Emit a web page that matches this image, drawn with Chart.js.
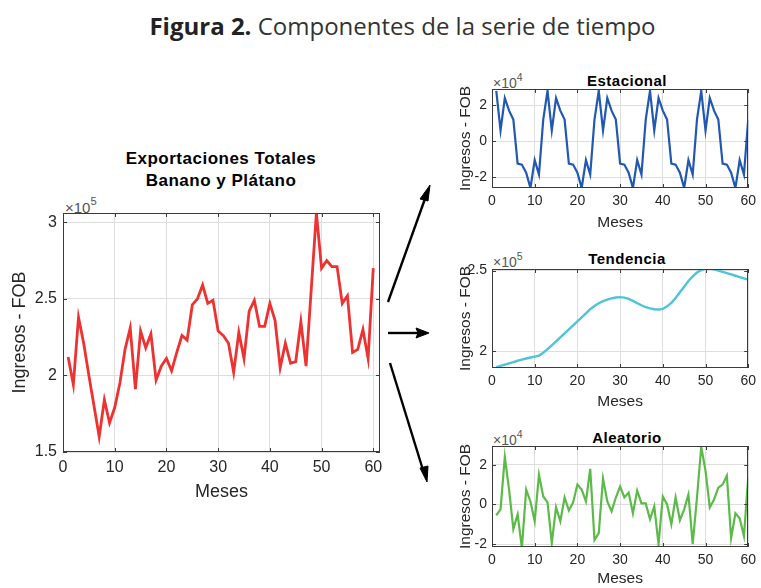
<!doctype html>
<html>
<head>
<title>Figura 2 - Componentes de la serie de tiempo</title>
<script src="https://cdn.jsdelivr.net/npm/chart.js@4.4.0/dist/chart.umd.min.js"></script>
<style>
body {
	margin: 0;
	background: #fff;
	width: 761px;
	height: 588px;
	overflow: hidden;
	position: relative;
	font-family: "Liberation Sans", Arial, sans-serif;
}
canvas { position: absolute; }
.txt { position: absolute; white-space: nowrap; color: #000; line-height: 1; }
.fig { left: 22px; width: 761px; text-align: center; top: 14px; font-family: "Open Sans", sans-serif; font-size: 24px; color: #333; }
.fig b { font-weight: 700; color: #222; }
.ttl { font-weight: bold; transform: translate(-50%, -50%); letter-spacing: 0.5px; }
.exp { color: #555; transform: translateY(-50%); }
.exp sup { font-size: 0.75em; position: relative; top: -2px; }
</style>
</head>
<body>
	<div class="txt fig"><b>Figura 2.</b> Componentes de la serie de tiempo</div>

	<div class="txt ttl" style="left:221px; top:158px; font-size:17px;">Exportaciones Totales</div>
	<div class="txt ttl" style="left:221px; top:180px; font-size:17px;">Banano y Plátano</div>
	<div class="txt exp" style="left:65px; top:206px; font-size:15px;">&times;10<sup>5</sup></div>

	<div class="txt ttl" style="left:627px; top:80px; font-size:15px;">Estacional</div>
	<div class="txt exp" style="left:493px; top:82px; font-size:14px;">&times;10<sup>4</sup></div>
	<div class="txt ttl" style="left:627px; top:258px; font-size:15px;">Tendencia</div>
	<div class="txt exp" style="left:493px; top:261px; font-size:14px;">&times;10<sup>5</sup></div>
	<div class="txt ttl" style="left:627px; top:437px; font-size:15px;">Aleatorio</div>
	<div class="txt exp" style="left:493px; top:439px; font-size:14px;">&times;10<sup>4</sup></div>

	<canvas id="cMain" width="400" height="320" style="left:0; top:190px;"></canvas>
	<canvas id="cEst" width="321" height="172" style="left:440px; top:60px;"></canvas>
	<canvas id="cTen" width="321" height="171" style="left:440px; top:240px;"></canvas>
	<canvas id="cAle" width="321" height="168" style="left:440px; top:420px;"></canvas>

	<svg width="761" height="588" style="position:absolute; left:0; top:0;">
		<g stroke="#000" stroke-width="2.4" fill="#000">
			<line x1="388" y1="302" x2="426" y2="196"/>
			<polygon points="430,185 420,199 428,201" stroke-width="1"/>
			<line x1="388" y1="333" x2="420" y2="333"/>
			<polygon points="429,333 416,328 418,333 416,338" stroke-width="1"/>
			<line x1="390" y1="363" x2="423" y2="470"/>
			<polygon points="427,482 420,468 428,466" stroke-width="1"/>
		</g>
	</svg>

	<script>
	// meses (eje x)
	var meses = [1,2,3,4,5,6,7,8,9,10,11,12,13,14,15,16,17,18,19,20,
		21,22,23,24,25,26,27,28,29,30,31,32,33,34,35,36,37,38,39,40,
		41,42,43,44,45,46,47,48,49,50,51,52,53,54,55,56,57,58,59,60];
	var xTicks = [0,10,20,30,40,50,60];

	// Exportaciones totales (x10^5)
	var totales = [2.12,1.94,2.38,2.21,2.00,1.80,1.60,1.84,1.69,1.79,
		1.95,2.17,2.31,1.91,2.29,2.18,2.27,1.97,2.06,2.11,
		2.03,2.15,2.26,2.23,2.46,2.50,2.59,2.47,2.49,2.29,
		2.26,2.21,2.02,2.28,2.11,2.42,2.49,2.32,2.32,2.47,
		2.36,2.05,2.21,2.08,2.09,2.35,2.06,2.56,3.06,2.70,
		2.75,2.71,2.71,2.47,2.52,2.15,2.17,2.30,2.11,2.70];
	var totalesTicks = [1.5,2,2.5,3];

	// Componente estacional (x10^4)
	var estacional = [2.8,0.6,2.4,1.7,1.2,-1.25,-1.3,-1.75,-2.6,-1.05,-1.85,1.2,
		2.8,0.6,2.4,1.7,1.2,-1.25,-1.3,-1.75,-2.6,-1.05,-1.85,1.2,
		2.8,0.6,2.4,1.7,1.2,-1.25,-1.3,-1.75,-2.6,-1.05,-1.85,1.2,
		2.8,0.6,2.4,1.7,1.2,-1.25,-1.3,-1.75,-2.6,-1.05,-1.85,1.2,
		2.8,0.6,2.4,1.7,1.2,-1.25,-1.3,-1.75,-2.6,-1.05,-1.85,1.2];
	var estacionalTicks = [-2,0,2];

	// Componente tendencia (x10^5)
	var tendencia = [1.900,1.908,1.916,1.924,1.932,1.940,1.947,1.954,1.960,1.966,
		1.972,1.990,2.012,2.036,2.060,2.085,2.110,2.135,2.160,2.185,
		2.210,2.235,2.260,2.280,2.297,2.310,2.320,2.328,2.333,2.335,
		2.332,2.324,2.312,2.298,2.285,2.273,2.265,2.260,2.258,2.262,
		2.278,2.300,2.330,2.365,2.400,2.435,2.465,2.488,2.503,2.512,
		2.515,2.508,2.500,2.492,2.484,2.476,2.468,2.460,2.452,2.444];
	var tendenciaTicks = [2,2.5];

	// Componente aleatorio (x10^4)
	var aleatorio = [-0.55,-0.25,2.4,0.75,-1.25,-0.5,-2.2,0.75,0.15,-0.85,
		1.5,0.4,0.1,-1.95,-0.15,-0.85,0.35,-0.3,0.1,1.0,
		0.75,0.15,1.8,-1.8,-1.45,1.3,0.15,-0.35,0.35,0.9,
		0.35,0.6,-0.45,0.7,0.05,0.05,-0.75,-0.1,-2.0,0.4,
		0,-1.0,0.35,-0.8,-0.25,0.5,-2.0,0.35,2.9,1.7,
		-0.15,0.25,0.85,1.0,1.45,-1.7,-0.45,-0.7,-1.6,1.35];
	var aleatorioTicks = [-2,0,2];

	var F = '"Liberation Sans", Arial, sans-serif';
	var INK = '#262626';

	// caja tipo matlab con marcas hacia dentro
	var boxPlugin = {
		id: 'box',
		afterDraw: function(chart) {
			var ctx = chart.ctx, a = chart.chartArea, sx = chart.scales.x, sy = chart.scales.y;
			ctx.save();
			ctx.strokeStyle = '#3a3a3a';
			ctx.lineWidth = 1;
			ctx.strokeRect(Math.round(a.left) + 0.5, Math.round(a.top) + 0.5,
				Math.round(a.right - a.left) - 1, Math.round(a.bottom - a.top) - 1);
			ctx.beginPath();
			sx.ticks.forEach(function(t) {
				var p = Math.round(sx.getPixelForValue(t.value)) + 0.5;
				ctx.moveTo(p, a.bottom); ctx.lineTo(p, a.bottom - 4);
				ctx.moveTo(p, a.top); ctx.lineTo(p, a.top + 4);
			});
			sy.ticks.forEach(function(t) {
				var p = Math.round(sy.getPixelForValue(t.value)) + 0.5;
				ctx.moveTo(a.left, p); ctx.lineTo(a.left + 4, p);
				ctx.moveTo(a.right, p); ctx.lineTo(a.right - 4, p);
			});
			ctx.stroke();
			ctx.restore();
		}
	};

	function drawPanel(id, values, yTicks, color, c) {
		var pts = meses.map(function(m, i) { return {x: m, y: values[i]}; });
		return new Chart(document.getElementById(id), {
			type: 'line',
			data: { datasets: [{
				data: pts,
				borderColor: color,
				borderWidth: c.lw,
				pointRadius: 0,
				tension: 0,
				fill: false
			}]},
			options: {
				responsive: false,
				animation: false,
				plugins: { legend: {display: false}, tooltip: {enabled: false} },
				layout: { padding: {top: c.padTop, right: c.padRight, left: 0, bottom: 0} },
				scales: {
					x: {
						type: 'linear', min: 0, max: c.xMax,
						afterBuildTicks: function(s) { s.ticks = xTicks.map(function(v) { return {value: v}; }); },
						afterFit: function(s) { s.height = c.xHeight; },
						grid: {color: '#dedede', drawTicks: false},
						border: {display: false},
						ticks: {color: INK, font: {size: c.tick, family: F}, padding: c.xTickPad,
							maxRotation: 0, autoSkip: false, callback: function(v) { return String(v); }},
						title: {display: true, text: 'Meses', color: INK,
							font: {size: c.lab, family: F}, padding: {top: 0, bottom: c.xTitlePad}}
					},
					y: {
						type: 'linear', min: c.yMin, max: c.yMax,
						afterBuildTicks: function(s) { s.ticks = yTicks.map(function(v) { return {value: v}; }); },
						afterFit: function(s) { s.width = c.yWidth; },
						grid: {color: '#dedede', drawTicks: false},
						border: {display: false},
						ticks: {color: INK, font: {size: c.tick, family: F}, padding: c.yTickPad,
							autoSkip: false, callback: function(v) { return String(v); }},
						title: {display: true, text: 'Ingresos - FOB', color: INK,
							font: {size: c.lab, family: F}, padding: {top: c.yTitlePad, bottom: 0}}
					}
				}
			},
			plugins: [boxPlugin]
		});
	}

	drawPanel('cMain', totales, totalesTicks, '#ee3131', {
		lw: 2.8, padTop: 23, padRight: 20, xMax: 61.3, yMin: 1.5, yMax: 3.06,
		xHeight: 58, yWidth: 63, tick: 16, lab: 18, xTickPad: 6, yTickPad: 6,
		xTitlePad: 7, yTitlePad: 9
	});
	drawPanel('cEst', estacional, estacionalTicks, '#2158b2', {
		lw: 2.2, padTop: 29, padRight: 8, xMax: 60, yMin: -2.6, yMax: 2.9,
		xHeight: 44, yWidth: 52, tick: 14, lab: 15.5, xTickPad: 5, yTickPad: 5,
		xTitlePad: 0, yTitlePad: 16
	});
	drawPanel('cTen', tendencia, tendenciaTicks, '#4fc3d8', {
		lw: 2.4, padTop: 29, padRight: 8, xMax: 60, yMin: 1.895, yMax: 2.51,
		xHeight: 43, yWidth: 52, tick: 14, lab: 15.5, xTickPad: 5, yTickPad: 5,
		xTitlePad: 0, yTitlePad: 16
	});
	drawPanel('cAle', aleatorio, aleatorioTicks, '#5cba48', {
		lw: 2.2, padTop: 26, padRight: 8, xMax: 60, yMin: -2.15, yMax: 2.95,
		xHeight: 41, yWidth: 52, tick: 14, lab: 15.5, xTickPad: 5, yTickPad: 5,
		xTitlePad: 0, yTitlePad: 16
	});
	</script>
</body>
</html>
